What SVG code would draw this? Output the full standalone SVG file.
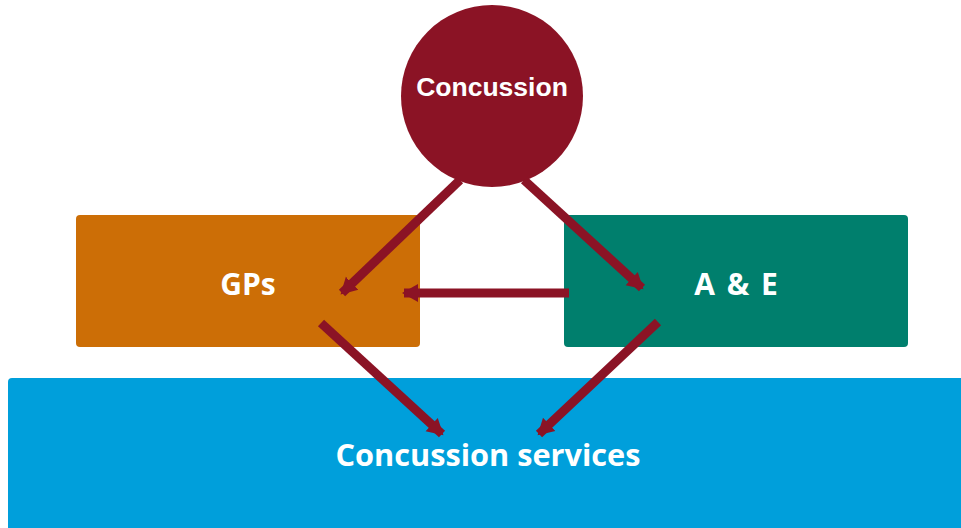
<svg xmlns="http://www.w3.org/2000/svg" width="961" height="528" viewBox="0 0 961 528">
<style>
.lbl{fill:#fff;font-weight:bold;text-anchor:middle;}
.sans{font-family:"Open Sans","Liberation Sans",sans-serif;}
.arial{font-family:"Liberation Sans",Arial,sans-serif;}
.conn{stroke:#8B1325;stroke-width:9;fill:none;marker-end:url(#ah);}
</style>
<defs>
<marker id="ah" markerUnits="userSpaceOnUse" markerWidth="20" markerHeight="20" refX="14" refY="10" orient="auto">
<path d="M0,1 L16,10 L0,19 Z" fill="#8B1325"/>
</marker>
</defs>
<rect width="961" height="528" fill="#fff"/>
<g id="services">
<rect x="8" y="378" width="960" height="160" rx="4" fill="#009FDB"/>
<text class="lbl sans" x="488" y="466" font-size="30.7">Concussion services</text>
</g>
<g id="gps">
<rect x="76" y="215" width="344" height="132" rx="4" fill="#CC6E06"/>
<text class="lbl sans" x="248" y="295" font-size="30" word-spacing="2">GPs</text>
</g>
<g id="ae">
<rect x="564" y="215" width="344" height="132" rx="4" fill="#007F6D"/>
<text class="lbl sans" x="736" y="295" font-size="30" word-spacing="4">A &amp; E</text>
</g>
<g id="concussion">
<circle cx="492" cy="96" r="91" fill="#8B1325"/>
<text class="lbl arial" x="492" y="96" font-size="26.5">Concussion</text>
</g>
<g id="connectors">
<line class="conn" x1="460" y1="180" x2="342" y2="293"/>
<line class="conn" x1="524" y1="180" x2="642" y2="288"/>
<line class="conn" x1="569" y1="293" x2="404" y2="293"/>
<line class="conn" x1="321" y1="323" x2="442" y2="434"/>
<line class="conn" x1="658" y1="322" x2="539" y2="434"/>
</g>
</svg>
